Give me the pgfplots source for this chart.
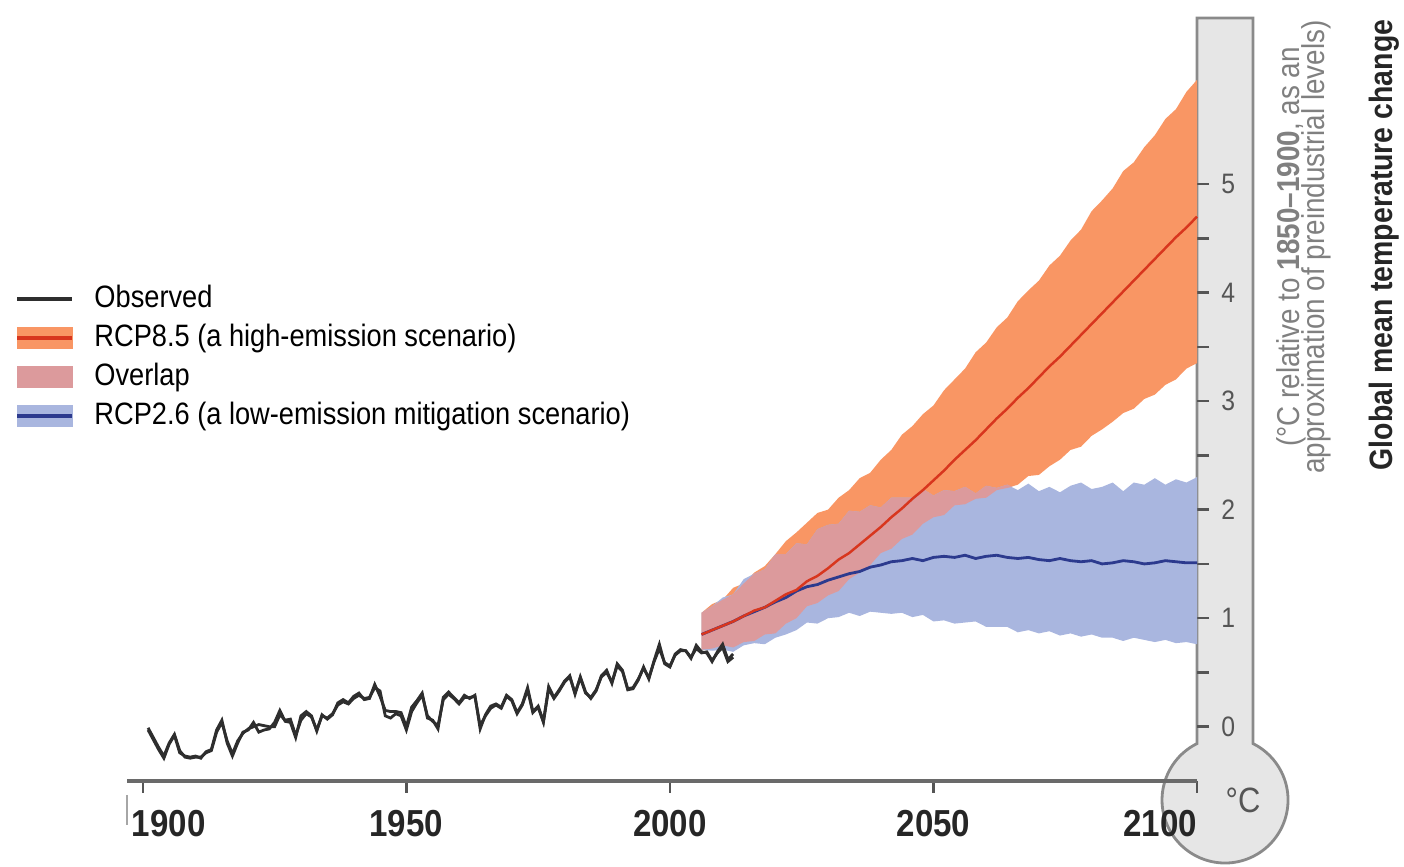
\documentclass[border=0pt]{standalone}
\usepackage{fontspec}
\setmainfont{Liberation Sans}
\newfontfamily\cond[FakeStretch=0.88]{Liberation Sans}
\usepackage{pgfplots}
\pgfplotsset{compat=1.18}
\usepackage{pgfplotstable}
\usepgfplotslibrary{fillbetween}

\definecolor{obs}{HTML}{2E2E2E}
\definecolor{o85}{HTML}{F99664}
\definecolor{r85}{HTML}{D8361E}
\definecolor{b26}{HTML}{A9B6DF}
\definecolor{d26}{HTML}{2C3A8E}
\definecolor{ovl}{HTML}{DC9A9C}
\definecolor{thfill}{HTML}{E6E6E6}
\definecolor{thline}{HTML}{8A8A8A}
\definecolor{tk}{HTML}{555555}
\definecolor{axl}{HTML}{6A6A6A}
\definecolor{sub}{HTML}{808080}

% observed, two datasets (deg C rel. to 1850-1900)
\pgfplotstableread{
year a b
1901 -0.03 -0.01
1902 -0.12 -0.10
1903 -0.21 -0.19
1904 -0.29 -0.27
1905 -0.16 -0.15
1906 -0.08 -0.07
1907 -0.24 -0.22
1908 -0.27 -0.28
1909 -0.28 -0.29
1910 -0.27 -0.28
1911 -0.29 -0.28
1912 -0.23 -0.24
1913 -0.21 -0.22
1914 -0.03 -0.05
1915 0.06 0.04
1916 -0.15 -0.13
1917 -0.27 -0.25
1918 -0.15 -0.13
1919 -0.05 -0.06
1920 -0.03 -0.02
1921 0.04 0.00
1922 -0.05 0.02
1923 -0.03 0.01
1924 -0.02 0.00
1925 0.04 0.00
1926 0.15 0.11
1927 0.05 0.06
1928 0.04 0.07
1929 -0.10 -0.08
1930 0.10 0.06
1931 0.14 0.12
1932 0.10 0.09
1933 -0.04 -0.03
1934 0.11 0.10
1935 0.07 0.08
1936 0.11 0.12
1937 0.22 0.20
1938 0.25 0.23
1939 0.22 0.21
1940 0.28 0.26
1941 0.31 0.29
1942 0.25 0.26
1943 0.26 0.27
1944 0.39 0.36
1945 0.28 0.33
1946 0.15 0.10
1947 0.14 0.08
1948 0.14 0.12
1949 0.13 0.10
1950 0.00 -0.03
1951 0.18 0.14
1952 0.24 0.22
1953 0.31 0.29
1954 0.08 0.10
1955 0.06 0.05
1956 -0.02 0.01
1957 0.27 0.25
1958 0.32 0.30
1959 0.27 0.26
1960 0.22 0.21
1961 0.29 0.27
1962 0.26 0.27
1963 0.29 0.28
1964 -0.02 0.01
1965 0.11 0.10
1966 0.19 0.17
1967 0.21 0.20
1968 0.18 0.17
1969 0.29 0.28
1970 0.25 0.24
1971 0.13 0.12
1972 0.21 0.20
1973 0.36 0.34
1974 0.14 0.13
1975 0.19 0.18
1976 0.05 0.04
1977 0.37 0.35
1978 0.27 0.26
1979 0.34 0.33
1980 0.42 0.41
1981 0.47 0.46
1982 0.30 0.31
1983 0.46 0.45
1984 0.32 0.31
1985 0.26 0.27
1986 0.33 0.34
1987 0.47 0.46
1988 0.52 0.50
1989 0.40 0.41
1990 0.58 0.56
1991 0.52 0.51
1992 0.34 0.35
1993 0.35 0.36
1994 0.43 0.44
1995 0.55 0.54
1996 0.44 0.45
1997 0.61 0.60
1998 0.76 0.72
1999 0.58 0.59
2000 0.55 0.56
2001 0.67 0.66
2002 0.71 0.70
2003 0.70 0.70
2004 0.63 0.64
2005 0.75 0.72
2006 0.69 0.68
2007 0.68 0.69
2008 0.60 0.61
2009 0.69 0.68
2010 0.76 0.73
2011 0.62 0.60
2012 0.67 0.64
}\obs

% projections: RCP8.5 and RCP2.6 ranges and means
\pgfplotstableread{
year u85 l85 m85 u26 l26 m26
2006 1.05 0.71 0.85 1.05 0.71 0.85
2008 1.13 0.72 0.89 1.11 0.70 0.89
2010 1.17 0.75 0.93 1.19 0.71 0.93
2012 1.28 0.73 0.97 1.22 0.69 0.97
2014 1.32 0.78 1.02 1.36 0.75 1.02
2016 1.42 0.79 1.07 1.41 0.77 1.06
2018 1.48 0.85 1.10 1.45 0.76 1.10
2020 1.59 0.86 1.16 1.59 0.82 1.15
2022 1.71 0.95 1.22 1.59 0.85 1.19
2024 1.79 1.00 1.26 1.69 0.89 1.25
2026 1.88 1.11 1.34 1.68 0.96 1.29
2028 1.97 1.14 1.39 1.82 0.95 1.31
2030 2.00 1.21 1.46 1.86 1.00 1.35
2032 2.11 1.25 1.54 1.87 1.01 1.38
2034 2.18 1.36 1.60 1.99 1.05 1.41
2036 2.29 1.42 1.68 1.98 1.02 1.43
2038 2.34 1.49 1.76 2.04 1.06 1.47
2040 2.46 1.60 1.84 2.02 1.05 1.49
2042 2.55 1.64 1.93 2.11 1.04 1.52
2044 2.69 1.73 2.01 2.11 1.05 1.53
2046 2.77 1.77 2.10 2.11 1.01 1.55
2048 2.88 1.87 2.18 2.19 1.03 1.53
2050 2.96 1.93 2.27 2.13 0.97 1.56
2052 3.10 1.95 2.36 2.18 0.98 1.57
2054 3.20 2.04 2.46 2.17 0.95 1.56
2056 3.30 2.05 2.55 2.21 0.96 1.58
2058 3.45 2.10 2.64 2.15 0.97 1.55
2060 3.54 2.11 2.74 2.22 0.92 1.57
2062 3.68 2.18 2.84 2.20 0.92 1.58
2064 3.77 2.20 2.93 2.23 0.92 1.56
2066 3.92 2.23 3.03 2.18 0.87 1.55
2068 4.02 2.31 3.12 2.24 0.89 1.56
2070 4.11 2.32 3.22 2.17 0.86 1.54
2072 4.25 2.40 3.32 2.21 0.88 1.53
2074 4.34 2.46 3.41 2.16 0.84 1.55
2076 4.48 2.55 3.51 2.22 0.86 1.53
2078 4.58 2.58 3.61 2.25 0.83 1.52
2080 4.75 2.68 3.71 2.19 0.85 1.53
2082 4.85 2.74 3.81 2.21 0.82 1.50
2084 4.96 2.81 3.91 2.25 0.82 1.51
2086 5.12 2.89 4.01 2.17 0.79 1.53
2088 5.20 2.93 4.11 2.25 0.82 1.52
2090 5.34 3.02 4.21 2.23 0.80 1.50
2092 5.45 3.06 4.31 2.29 0.78 1.51
2094 5.60 3.15 4.41 2.23 0.80 1.53
2096 5.69 3.20 4.51 2.28 0.77 1.52
2098 5.85 3.30 4.60 2.25 0.78 1.51
2100 5.96 3.35 4.70 2.30 0.76 1.51
}\proj

% where the two ranges overlap
\pgfplotstableread{
year lo hi
2006 0.71 1.05
2008 0.72 1.11
2010 0.75 1.17
2012 0.73 1.22
2014 0.78 1.32
2016 0.79 1.41
2018 0.85 1.45
2020 0.86 1.59
2022 0.95 1.59
2024 1.00 1.69
2026 1.11 1.68
2028 1.14 1.82
2030 1.21 1.86
2032 1.25 1.87
2034 1.36 1.99
2036 1.42 1.98
2038 1.49 2.04
2040 1.60 2.02
2042 1.64 2.11
2044 1.73 2.11
2046 1.77 2.11
2048 1.87 2.19
2050 1.93 2.13
2052 1.95 2.18
2054 2.04 2.17
2056 2.05 2.21
2058 2.10 2.15
2060 2.11 2.22
2062 2.18 2.20
2064 2.20 2.23
2065 2.21 2.21
}\ovtab

\begin{document}
\begin{tikzpicture}
\begin{axis}[
    set layers,
    scale only axis,
    width=10.70cm, height=7.63cm,
    xmin=1897, xmax=2100,
    ymin=-0.5, ymax=6.53,
    axis x line*=bottom,
    axis y line*=right,
    y axis line style={draw=none},
    x axis line style={line width=1.1pt, color=axl},
    tick align=outside,
    xtick={1900,1950,2000,2050,2100},
    xticklabels={\makebox[0pt][l]{\hspace*{-1.1mm}1900},1950,2000,2050,\makebox[0pt][r]{2100}},
    ytick={0,1,2,3,4,5},
    minor ytick={0.5,1.5,2.5,3.5,4.5},
    major tick length=1.2mm, minor tick length=1.2mm,
    tick style={draw=tk, line width=0.7pt},
    xticklabel style={font=\cond\bfseries\fontsize{10.7}{12}\selectfont, text=black!85, yshift=-0.5mm},
    yticklabel style={font=\cond\fontsize{8}{9}\selectfont, text=tk, xshift=0mm},
    /pgf/number format/assume math mode=true,
    clip=false,
    legend cell align=left,
    legend style={at={(-0.1047,0.658)}, anchor=north west, draw=none, fill=none,
      inner sep=0pt, column sep=0.15cm, row sep=0pt,
      font=\cond\fontsize{8.8}{10}\selectfont,
      nodes={inner sep=1.5pt, text height=6.3pt, text depth=1.8pt}},
]
% thermometer, behind ticks and axis line
\begin{pgfonlayer}{axis background}
\filldraw[fill=thfill, draw=thline, line width=0.8pt]
  (axis cs:2100,6.53) -- (axis cs:2100,-0.1554)
  arc[start angle=116.4, end angle=423.6, radius=0.63cm]
  -- (axis cs:2110.62,6.53) -- cycle;
\end{pgfonlayer}
% ranges
\addplot[name path=u85, draw=none, forget plot] table[x=year, y=u85] {\proj};
\addplot[name path=l85, draw=none, forget plot] table[x=year, y=l85] {\proj};
\addplot[o85, forget plot] fill between[of=u85 and l85];
\addplot[name path=u26, draw=none, forget plot] table[x=year, y=u26] {\proj};
\addplot[name path=l26, draw=none, forget plot] table[x=year, y=l26] {\proj};
\addplot[b26, forget plot] fill between[of=u26 and l26];
\addplot[name path=ohi, draw=none, forget plot] table[x=year, y=hi] {\ovtab};
\addplot[name path=olo, draw=none, forget plot] table[x=year, y=lo] {\ovtab};
\addplot[ovl, forget plot] fill between[of=ohi and olo];
% means
\addplot[d26, line width=0.8pt, forget plot] table[x=year, y=m26] {\proj};
\addplot[r85, line width=0.7pt, forget plot] table[x=year, y=m85] {\proj};
% observed
\addplot[obs, line width=0.8pt, forget plot] table[x=year, y=b] {\obs};
\addplot[obs, line width=0.8pt, forget plot] table[x=year, y=a] {\obs};

\addlegendimage{legend image code/.code={\draw[obs, line width=1pt] (0cm,0cm) -- (0.55cm,0cm);}}
\addlegendentry{Observed}
\addlegendimage{legend image code/.code={\fill[o85] (0cm,-0.1cm) rectangle (0.55cm,0.1cm); \draw[r85, line width=1pt] (0cm,0cm) -- (0.55cm,0cm);}}
\addlegendentry{RCP8.5 (a high-emission scenario)}
\addlegendimage{legend image code/.code={\fill[ovl] (0cm,-0.1cm) rectangle (0.55cm,0.1cm);}}
\addlegendentry{Overlap}
\addlegendimage{legend image code/.code={\fill[b26] (0cm,-0.1cm) rectangle (0.55cm,0.1cm); \draw[d26, line width=1pt] (0cm,0cm) -- (0.55cm,0cm);}}
\addlegendentry{RCP2.6 (a low-emission mitigation scenario)}
\end{axis}

\draw[gray!70, line width=0.6pt] (0,-0.14) -- (0,-0.44);
\node[font=\cond\fontsize{10}{12}\selectfont, text=tk] at (11.16,-0.19) {°C};
\node[rotate=90, align=center, text=sub, font={\cond\fontsize{9}{7}\selectfont},
      execute at begin node={\lineskiplimit=-20pt}]
  at (11.77,5.34) {(°C relative to \textbf{1850–1900}, as an\\approximation of preindustrial levels)};
\node[rotate=90, font=\cond\bfseries\fontsize{9.2}{11}\selectfont, text=black!85]
  at (12.57,5.36) {Global mean temperature change};

\pgfresetboundingbox
\path[use as bounding box] (-1.27,-0.86) rectangle (12.77,7.81);
\end{tikzpicture}
\end{document}
